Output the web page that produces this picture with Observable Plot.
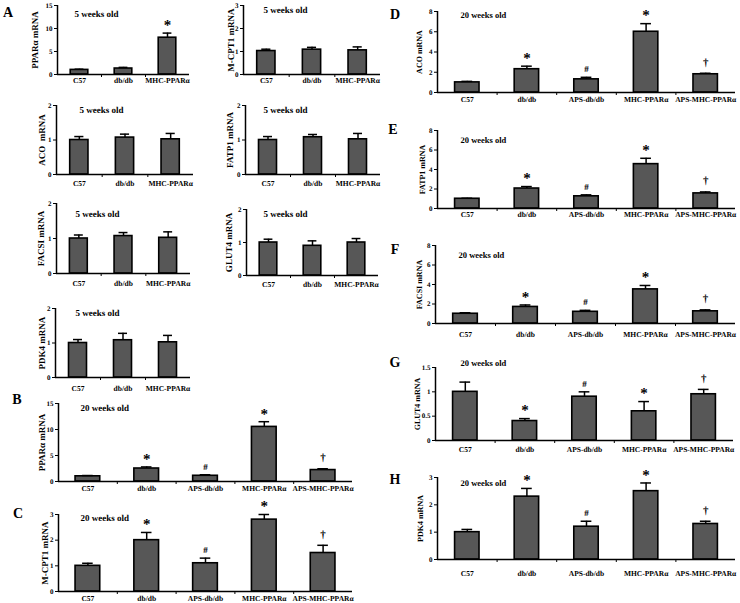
<!DOCTYPE html>
<html><head><meta charset="utf-8">
<script src="https://cdn.jsdelivr.net/npm/d3@7"></script>
<script src="https://cdn.jsdelivr.net/npm/@observablehq/plot@0.6"></script>
<style>
body{margin:0;background:#fff;-webkit-font-smoothing:antialiased;}
#fig{position:relative;width:740px;height:603px;overflow:hidden;background:#fff;font-family:"Liberation Serif","Times New Roman",serif;font-weight:bold;color:#000;}
#fig svg text{-webkit-font-smoothing:antialiased;text-rendering:geometricPrecision;}
.pn{position:absolute;}
.lt{position:absolute;font-size:14px;line-height:1;transform:translate(-50%,-50%);}
</style></head><body><div id="fig"></div>
<script>
// ---- data ----
const weeks5Categories = ["C57", "db/db", "MHC-PPARα"];
const weeks20Categories = ["C57", "db/db", "APS-db/db", "MHC-PPARα", "APS-MHC-PPARα"];
const weeks5Title = "5 weeks old";
const weeks20Title = "20 weeks old";
const weeks20Signif = ["", "*", "#", "*", "†"];

const a_ppara = [1.0, 1.3, 8.0];        const a_ppara_err = [0.15, 0.25, 1.0];   const a_ppara_sig = ["", "", "*"];
const a_mcpt1 = [1.02, 1.08, 1.05];     const a_mcpt1_err = [0.08, 0.1, 0.15];
const a_aco = [1.0, 1.07, 1.02];        const a_aco_err = [0.1, 0.1, 0.17];
const a_fatp1 = [1.0, 1.08, 1.02];      const a_fatp1_err = [0.1, 0.08, 0.17];
const a_facsi = [1.0, 1.07, 1.02];      const a_facsi_err = [0.1, 0.1, 0.17];
const a_glut4 = [1.0, 0.9, 1.0];        const a_glut4_err = [0.1, 0.15, 0.12];
const a_pdk4 = [1.0, 1.08, 1.02];       const a_pdk4_err = [0.1, 0.2, 0.2];

const b_ppara = [1.0, 2.5, 1.1, 10.5, 2.2];  const b_ppara_err = [0.15, 0.3, 0.2, 1.0, 0.25];
const c_mcpt1 = [1.0, 2.0, 1.1, 2.8, 1.5];   const c_mcpt1_err = [0.1, 0.3, 0.2, 0.2, 0.3];
const d_aco = [1.0, 2.3, 1.3, 6.0, 1.8];     const d_aco_err = [0.1, 0.3, 0.2, 0.8, 0.1];
const e_fatp1 = [1.0, 2.05, 1.25, 4.55, 1.55]; const e_fatp1_err = [0.05, 0.2, 0.15, 0.6, 0.15];
const f_facsi = [1.0, 1.7, 1.2, 3.5, 1.25];  const f_facsi_err = [0.1, 0.2, 0.15, 0.4, 0.15];
const g_glut4 = [1.0, 0.4, 0.9, 0.6, 0.95];  const g_glut4_err = [0.2, 0.05, 0.1, 0.2, 0.1];
const h_pdk4 = [1.0, 2.3, 1.2, 2.5, 1.3];    const h_pdk4_err = [0.1, 0.3, 0.2, 0.3, 0.1];

const ticks15 = [0, 5, 10, 15];
const ticks3 = [0, 1, 2, 3];
const ticks2 = [0, 1, 2];
const ticks8 = [0, 2, 4, 6, 8];
const ticks15dec = [0, 0.5, 1, 1.5];

const panelLetters = ["A", "B", "C", "D", "E", "F", "G", "H"];

// ---- layout ----
const fig = document.getElementById("fig");
const FONT = '"Liberation Serif","Times New Roman",serif';

function addPanel(L, cats, vals, errs, sig, ticks, ylabel, title) {
  const mL = 42, mR = 3, mT = 18, mB = 22;
  const n = cats.length;
  const rows = cats.map((c, i) => ({i, c, v: vals[i], e: errs[i], s: sig ? sig[i] : ""}));
  const yMax = ticks[ticks.length - 1];
  const W = mL + (L.right - L.axisX) + mR;
  const H = mT + (L.zero - L.top) + mB;
  const hw = L.hw, cap = L.cap;
  const sw = 1.5;
  const stars = rows.filter(d => d.s === "*");
  const hashes = rows.filter(d => d.s === "#");
  const daggers = rows.filter(d => d.s === "†");
  const svg = Plot.plot({
    width: W, height: H,
    marginLeft: mL, marginRight: mR, marginTop: mT, marginBottom: mB,
    style: {background: "transparent", overflow: "visible", fontFamily: FONT, fontWeight: "bold", color: "#000"},
    x: {domain: [-0.5, n - 0.5]},
    y: {domain: [0, yMax]},
    marks: [
      Plot.rectY(rows, {x1: d => d.i - hw, x2: d => d.i + hw, y1: 0, y2: "v", fill: "#575757", stroke: "#000", strokeWidth: 1.6}),
      Plot.ruleX(rows, {x: "i", y1: "v", y2: d => d.v + d.e, stroke: "#000", strokeWidth: sw}),
      Plot.ruleY(rows, {y: d => d.v + d.e, x1: d => d.i - cap, x2: d => d.i + cap, stroke: "#000", strokeWidth: sw}),
      Plot.text(stars, {x: "i", y: d => d.v + d.e, text: "s", dy: -8, fontSize: L.starFs, fontFamily: FONT, fill: "#000"}),
      Plot.text(hashes, {x: "i", y: d => d.v + d.e, text: "s", dy: -8, fontSize: 9, fontFamily: FONT, fill: "#000"}),
      Plot.text(daggers, {x: "i", y: d => d.v + d.e, text: "s", dy: -11, fontSize: 11, fontFamily: FONT, fill: "#000"}),
      Plot.ruleY([0], {stroke: "#000", strokeWidth: sw}),
      Plot.ruleX([-0.5], {y1: 0, y2: yMax, stroke: "#000", strokeWidth: sw}),
      Plot.ruleX(d3.range(n - 1).map(i => i + 0.5), {y1: 0, y2: 0, insetTop: 0, insetBottom: -3, stroke: "#000", strokeWidth: 1}),
      Plot.axisY({ticks, tickFormat: d => String(d), tickSize: 3, tickPadding: 2, fontSize: 7, label: null, anchor: "left"}),
      Plot.axisX({ticks: d3.range(n), tickFormat: i => cats[i], tickSize: 0, tickPadding: L.pad, fontSize: 7.5, label: null}),
      Plot.text([ylabel], {frameAnchor: "left", rotate: -90, textAnchor: "middle", lineAnchor: "middle", dx: -L.ylab, fontSize: L.ylfs, fontFamily: FONT, fill: "#000"}),
      Plot.text([title], {frameAnchor: "top-left", dx: L.tx - L.axisX, dy: L.ty - L.top, textAnchor: "start", lineAnchor: "middle", fontSize: L.tfs, fontFamily: FONT, fill: "#000"})
    ]
  });
  const div = document.createElement("div");
  div.className = "pn";
  div.style.left = (L.axisX - mL) + "px";
  div.style.top = (L.top - mT) + "px";
  div.appendChild(svg);
  fig.appendChild(div);
}

const A5 = {hw: 0.2, cap: 0.1, starFs: 15, ylfs: 9, tfs: 9};
const W20L = {hw: 0.21, cap: 0.09, starFs: 15, ylfs: 9, tfs: 9};
const W20R = {hw: 0.205, cap: 0.09, starFs: 15, ylfs: 8, tfs: 8.5};

addPanel({...A5, axisX: 57, right: 189, top: 5, zero: 74, pad: 3, ylab: 22, tx: 74, ty: 14}, weeks5Categories, a_ppara, a_ppara_err, a_ppara_sig, ticks15, "PPARα mRNA", weeks5Title);
addPanel({...A5, axisX: 243, right: 380, top: 5, zero: 74, pad: 3, ylab: 12, tx: 263, ty: 10}, weeks5Categories, a_mcpt1, a_mcpt1_err, null, ticks3, "M-CPT1 mRNA", weeks5Title);
addPanel({...A5, axisX: 56, right: 193, top: 105, zero: 174, pad: 6, ylab: 14, tx: 79, ty: 110}, weeks5Categories, a_aco, a_aco_err, null, ticks2, "ACO  mRNA", weeks5Title);
addPanel({...A5, axisX: 245, right: 380, top: 105, zero: 174, pad: 6, ylab: 15, tx: 263, ty: 110}, weeks5Categories, a_fatp1, a_fatp1_err, null, ticks2, "FATP1 mRNA", weeks5Title);
addPanel({...A5, axisX: 56, right: 190, top: 203, zero: 273, pad: 7, ylab: 15, tx: 75, ty: 214}, weeks5Categories, a_facsi, a_facsi_err, null, ticks2, "FACSI mRNA", weeks5Title);
addPanel({...A5, axisX: 246, right: 378, top: 209, zero: 275, pad: 6, ylab: 17, tx: 263, ty: 214}, weeks5Categories, a_glut4, a_glut4_err, null, ticks2, "GLUT4 mRNA", weeks5Title);
addPanel({...A5, axisX: 55, right: 190, top: 308, zero: 377, pad: 8, ylab: 13, tx: 75, ty: 313}, weeks5Categories, a_pdk4, a_pdk4_err, null, ticks2, "PDK4 mRNA", weeks5Title);

addPanel({...W20L, axisX: 58, right: 352, top: 403, zero: 481, pad: 4, ylab: 16, tx: 80, ty: 408}, weeks20Categories, b_ppara, b_ppara_err, weeks20Signif, ticks15, "PPARα mRNA", weeks20Title);
addPanel({...W20L, axisX: 58, right: 352, top: 514, zero: 591, pad: 4, ylab: 13, tx: 80, ty: 518}, weeks20Categories, c_mcpt1, c_mcpt1_err, weeks20Signif, ticks3, "M-CPT1 mRNA", weeks20Title);

addPanel({...W20R, axisX: 437, right: 735, top: 11, zero: 92, pad: 4, ylab: 18, tx: 460, ty: 15}, weeks20Categories, d_aco, d_aco_err, weeks20Signif, ticks8, "ACO mRNA", weeks20Title);
addPanel({...W20R, axisX: 437, right: 735, top: 130, zero: 208, pad: 3, ylab: 15, tx: 460, ty: 140}, weeks20Categories, e_fatp1, e_fatp1_err, weeks20Signif, ticks8, "FATP1 mRNA", weeks20Title);
addPanel({...W20R, axisX: 435, right: 735, top: 245, zero: 323, pad: 8, ylab: 16, tx: 458, ty: 255}, weeks20Categories, f_facsi, f_facsi_err, weeks20Signif, ticks8, "FACSI mRNA", weeks20Title);
addPanel({...W20R, axisX: 435, right: 733, top: 367, zero: 440, pad: 6, ylab: 18, tx: 460, ty: 363}, weeks20Categories, g_glut4, g_glut4_err, weeks20Signif, ticks15dec, "GLUT4 mRNA", weeks20Title);
addPanel({...W20R, axisX: 437, right: 735, top: 477, zero: 559, pad: 11, ylab: 17, tx: 460, ty: 483}, weeks20Categories, h_pdk4, h_pdk4_err, weeks20Signif, ticks3, "PDK4 mRNA", weeks20Title);

const letterPos = [[8, 13], [17, 400], [18, 514], [395, 15], [393, 130], [395, 250], [395, 363], [395, 480]];
panelLetters.forEach((t, k) => {
  const d = document.createElement("div");
  d.className = "lt";
  d.textContent = t;
  d.style.left = letterPos[k][0] + "px";
  d.style.top = letterPos[k][1] + "px";
  fig.appendChild(d);
});
</script>
</body></html>
